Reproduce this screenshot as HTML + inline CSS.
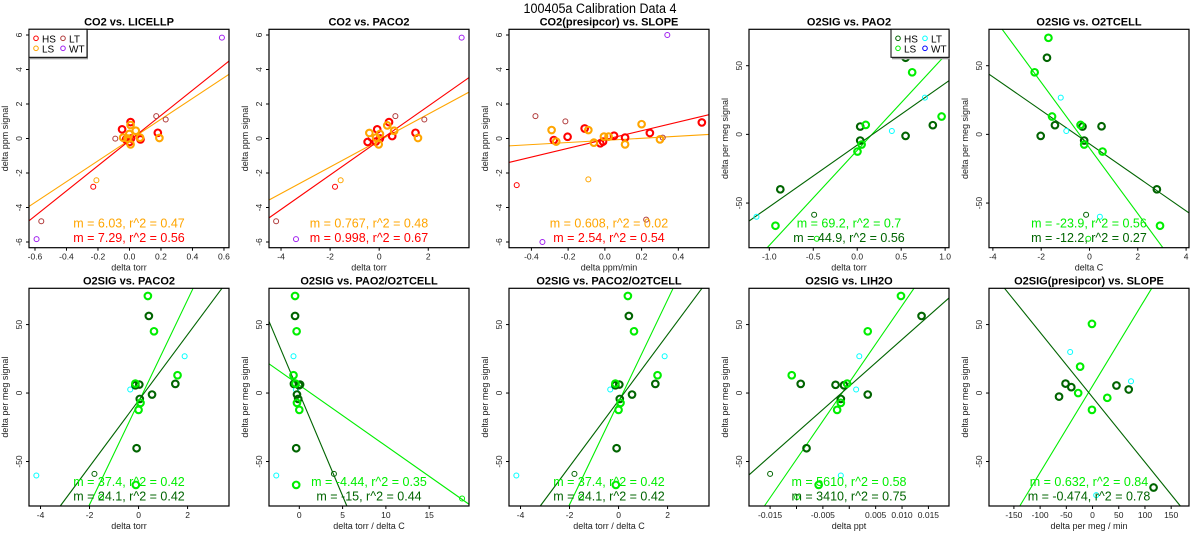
<!DOCTYPE html>
<html><head><meta charset="utf-8"><style>
html,body{margin:0;padding:0;background:#fff;overflow:hidden;width:1200px;height:550px;}
svg{display:block;font-family:"Liberation Sans",Arial,sans-serif;}
</style></head><body>
<svg id="fig" width="1200" height="550" viewBox="0 0 1200 550" xmlns="http://www.w3.org/2000/svg">
<rect width="1200" height="550" fill="#fff"/>
<text x="600" y="13" font-size="13.5" text-anchor="middle" textLength="153" lengthAdjust="spacingAndGlyphs">100405a   Calibration Data 4</text>
</svg>
<script>
// ---------- data ----------
const p1HS=[[-0.047,0.53],[0.007,0.95],[-0.022,-0.05],[0.0,-0.2],[0.07,-0.05],[0.18,0.33],[0.01,0.0]];
const p1LS=[[-0.04,0.05],[-0.001,0.26],[0.007,-0.34],[0.007,0.78],[0.04,0.45],[0.19,0.03],[-0.012,0.0],[0.067,0.05]];
const p1HSs=[[-0.23,-2.8]];
const p1LSs=[[-0.21,-2.42]];
const p1LT=[[-0.09,-0.01],[0.17,1.3],[0.23,1.1],[-0.56,-4.8]];
const p1WT=[[0.587,5.85],[-0.59,-5.83]];
const p2HS=[[-0.47,-0.2],[-0.08,0.53],[0.40,0.95],[0.53,0.14],[1.48,0.33],[-0.14,-0.18],[0.03,0.0]];
const p2LS=[[-0.40,0.32],[-0.13,0.05],[-0.02,-0.34],[0.33,0.76],[0.61,0.45],[1.58,0.03],[0.03,0.26]];
const p2HSs=[[-1.8,-2.8]];
const p2LSs=[[-1.57,-2.42]];
const p2LT=[[-0.35,0],[0.66,1.3],[1.84,1.1],[-4.2,-4.8]];
const p2WT=[[3.36,5.85],[-3.39,-5.83]];
const p3HS=[[-0.278,-0.09],[-0.203,0.1],[-0.11,0.58],[-0.025,-0.28],[-0.01,-0.18],[0.05,0.16],[0.11,0.05],[0.245,0.32],[0.528,0.93]];
const p3LS=[[-0.29,0.49],[-0.265,-0.18],[-0.09,0.49],[-0.06,-0.24],[-0.005,0.11],[0.02,0.11],[0.11,-0.34],[0.2,0.83],[0.3,-0.05]];
const p3HSs=[[-0.48,-2.7]];
const p3LSs=[[-0.09,-2.37]];
const p3LT=[[-0.378,1.3],[-0.215,0.99],[0.315,0.05],[0.225,-4.7]];
const p3WT=[[0.34,6.0],[-0.34,-6.0]];
const p4HS=[[-0.875,-40],[0.034,5.7],[0.034,-4.5],[0.55,55.8],[0.55,-1.1],[0.86,6.7]];
const p4LS=[[-0.93,-66.5],[0.003,-12.5],[0.05,-7.4],[0.097,6.9],[0.625,45.2],[0.96,13],[0.6,70.3]];
const p4HSs=[[-0.49,-58.5]];
const p4LSs=[[-0.46,-76]];
const p4LT=[[-1.146,-60],[0.394,2.5],[0.77,26.8]];
const p5HS=[[-1.43,6.7],[-2.02,-1.1],[-1.76,55.8],[-0.29,5.7],[-0.22,-4.5],[0.5,5.9],[2.79,-40]];
const p5LS=[[-2.27,45.2],[-1.7,70.3],[-1.55,13],[-0.37,6.9],[-0.22,-7.4],[0.54,-12.5],[2.92,-66.5]];
const p5HSs=[[-0.14,-58.5]];
const p5LSs=[[-0.05,-76]];
const p5LT=[[-1.19,26.8],[-0.96,2.5],[0.43,-60]];
const p6HS=[[0.42,56.3],[0.03,6.2],[-0.13,5.7],[0.05,-4.3],[0.55,-1.1],[1.5,6.7],[-0.08,-40.3]];
const p6LS=[[0.38,70.9],[0.63,45.1],[-0.13,6.9],[0.08,-7.2],[0.0,-12.3],[1.59,13],[-0.11,-67.1]];
const p6HSs=[[-1.8,-59]];
const p6LSs=[[-1.53,-76]];
const p6LT=[[-4.17,-60.2],[-0.34,2.6],[1.88,26.9]];
const p7HS=[[-0.49,56.3],[-0.62,6.7],[-0.04,5.7],[-0.27,-1.1],[-0.13,-4.3],[-0.36,-40.3],[0.09,6.2]];
const p7LS=[[-0.49,70.9],[-0.31,45.1],[-0.67,13],[-0.44,6.9],[-0.27,-7.2],[0,-12.3],[-0.36,-67.1]];
const p7HSs=[[4.0,-59]];
const p7LSs=[[18.8,-77]];
const p7LT=[[-2.66,-60.2],[-0.67,26.9],[-0.4,2.6]];
const p9HS=[[0.0137,56.3],[-0.0092,6.7],[-0.0026,6],[-0.001,5.7],[-0.0016,-4.3],[0.0035,-1.1],[-0.0081,-40.3]];
const p9LS=[[0.0098,70.9],[0.0035,45.1],[-0.0109,13],[-0.0004,6.9],[-0.0016,-7.2],[-0.0023,-12.3],[-0.0058,-67.1]];
const p9HSs=[[-0.015,-59]];
const p9LSs=[[-0.0099,-76]];
const p9LT=[[-0.0016,-60.2],[0.0019,26.9],[0.0013,2.6]];
const p10HS=[[-63.9,-2.6],[-51.5,6.9],[-40.5,4.3],[45.6,5.5],[69,2.6],[116.4,-69]];
const p10LS=[[-1.1,50.5],[-23.7,19.3],[-27.4,0],[-1.1,-12.3],[28.1,-3.5]];
const p10LT=[[-42.7,30],[73.4,8.6],[7,-74.6]];
// fit lines: [slope, intercept]
const fitsTopA=[[6.03,-0.09],[7.29,-0.12]];
const fitsTopB=[[0.767,-0.12],[0.998,-0.12]];
const fitsTopC=[[0.608,-0.11],[2.54,-0.06]];
const fitsO2A=[[69.2,-11.6],[44.9,-7.8]];
const fitsO2B=[[-23.9,-9.9],[-12.2,-6.9]];
const fitsO2C=[[37.4,-6.7],[24.1,-5.5]];
const fitsO2D=[[-4.44,5.8],[-15,-0.1]];
const fitsO2E=[[5610,7.7],[3410,5.0]];
const fitsO2F=[[0.632,5.2],[-0.474,-3.1]];
// tick values / labels
const ticksCO2y=[-6,-4,-2,0,2,4,6];
const ticksO2y=[-50,0,50];
const ticksP1x=[-0.6,-0.4,-0.2,0,0.2,0.4,0.6];
const labelsP1x=["-0.6","-0.4","-0.2","0.0","0.2","0.4","0.6"];
const ticksP2x=[-4,-2,0,2];
const ticksP3x=[-0.4,-0.2,0,0.2,0.4];
const labelsP3x=["-0.4","-0.2","0.0","0.2","0.4"];
const ticksP4x=[-1,-0.5,0,0.5,1];
const labelsP4x=["-1.0","-0.5","0.0","0.5","1.0"];
const ticksP5x=[-4,-2,0,2,4];
const ticksP7x=[0,5,10,15];
const ticksP9x=[-0.015,-0.01,-0.005,0,0.005,0.01,0.015];
const labelsP9x=["-0.015","","-0.005","","0.005","0.010","0.015"];
const ticksP10x=[-150,-100,-50,0,50,100,150];

// ---------- drawing ----------
const NS="http://www.w3.org/2000/svg";
const svg=document.getElementById('fig');
function mk(tag,attrs,parent){const e=document.createElementNS(NS,tag);for(const k in attrs)e.setAttribute(k,attrs[k]);(parent||svg).appendChild(e);return e;}
const RED="#ff0000",ORG="#ffa500",BRN="#b03a3a",PUR="#a020f0",DG="#006400",LG="#00ee00",CY="#00ffff",BL="#0000ff";
const TOPY=[29.3,247.7],BOTY=[288.3,506];
const CO2R=[-6.33,6.33],O2R=[-82.5,76.5];

function panel(o){
  const g=mk('g',{});
  
  
  const x0=o.bx,x1=o.bx+200,y0=o.by[0],y1=o.by[1];
  const sx=v=>x0+(v-o.xr[0])/(o.xr[1]-o.xr[0])*(x1-x0);
  const sy=v=>y1-(v-o.yr[0])/(o.yr[1]-o.yr[0])*(y1-y0);
  o.fits.forEach((f,i)=>{
    // clip line analytically to the y-range
    let xa=o.xr[0],xb=o.xr[1];
    const m=f[0],b=f[1];
    if(m!==0){
      let xlo=(o.yr[0]-b)/m,xhi=(o.yr[1]-b)/m;
      if(xlo>xhi){const t=xlo;xlo=xhi;xhi=t;}
      xa=Math.max(xa,xlo);xb=Math.min(xb,xhi);
    }
    if(xb<=xa)return;
    const l=mk('line',{x1:sx(xa),y1:sy(m*xa+b),x2:sx(xb),y2:sy(m*xb+b),stroke:o.fitCol[i],'stroke-width':1.1},g);
    
    
  });
  o.series.forEach(s=>{
    s.pts.forEach(p=>{
      const c=mk('circle',{cx:sx(p[0]),cy:sy(p[1]),r:s.thick?3.3:2.5,fill:'none',stroke:s.col,'stroke-width':s.thick?2.1:1},g);
      
      
    });
  });
  mk('rect',{x:x0,y:y0,width:x1-x0,height:y1-y0,fill:'none',stroke:'#000','stroke-width':1.2},g);
  o.xt.forEach((t,i)=>{
    const X=sx(t);
    mk('line',{x1:X,y1:y1,x2:X,y2:y1+3,stroke:'#000'},g);
    const lab=o.xl?o.xl[i]:String(t);
    if(lab){const tx=mk('text',{x:X,y:y1+12,'font-size':8.5,'text-anchor':'middle',fill:'#222'},g);tx.textContent=lab;
      
      }
  });
  o.yt.forEach(t=>{
    const Y=sy(t);
    mk('line',{x1:x0,y1:Y,x2:x0-3,y2:Y,stroke:'#000'},g);
    const tx=mk('text',{x:x0-7,y:Y,'font-size':8.5,'text-anchor':'middle',fill:'#222',transform:`rotate(-90 ${x0-7} ${Y})`},g);tx.textContent=String(t);
    
    
  });
  const tt=mk('text',{x:(x0+x1)/2,y:y0-4,'font-size':11,'font-weight':'bold','text-anchor':'middle'},g);tt.textContent=o.title;
  
  
  const xl=mk('text',{x:(x0+x1)/2,y:y1+23,'font-size':9,'text-anchor':'middle',fill:'#222'},g);xl.textContent=o.xlab;
  
  
  const yc=(y0+y1)/2;
  const yl=mk('text',{x:x0-21,y:yc,'font-size':9,'text-anchor':'middle',fill:'#222',transform:`rotate(-90 ${x0-21} ${yc})`},g);yl.textContent=o.ylab;
  
  
  o.fits.forEach((f,i)=>{
    const r=mk('text',{x:(x0+x1)/2,y:y1-20+i*14.5,'font-size':12.5,'text-anchor':'middle',fill:o.fitCol[i]},g);
    r.textContent=o.ann[i];
    
    
  });
  if(o.legend){
    const lx=o.legend.x;
    const lg=mk('g',{},g);
    
    
    mk('rect',{x:lx+1,y:y0+1,width:58,height:29,fill:'#999'},lg);
    mk('rect',{x:lx,y:y0,width:58,height:28,fill:'#fff',stroke:'#000','stroke-width':1},lg);
    o.legend.items.forEach((it,i)=>{
      const cx=lx+7+(i%2)*27,cy=y0+9+Math.floor(i/2)*10;
      mk('circle',{cx:cx,cy:cy,r:2.3,fill:'none',stroke:it[1],'stroke-width':1},lg);
      const t=mk('text',{x:cx+6,y:cy+4,'font-size':10},lg);t.textContent=it[0];
      
      
    });
  }
}
function co2Series(hs,ls,hss,lss,lt,wt){return [{key:'lt',pts:lt,col:BRN},{key:'wt',pts:wt,col:PUR},{key:'hs-small',pts:hss,col:RED},{key:'ls-small',pts:lss,col:ORG},{key:'hs',pts:hs,col:RED,thick:1},{key:'ls',pts:ls,col:ORG,thick:1}];}
function o2Series(hs,ls,hss,lss,lt){return [{key:'lt',pts:lt,col:CY},{key:'hs-small',pts:hss||[],col:DG},{key:'ls-small',pts:lss||[],col:LG},{key:'hs',pts:hs,col:DG,thick:1},{key:'ls',pts:ls,col:LG,thick:1}];}
const co2Leg=[["HS",RED],["LT",BRN],["LS",ORG],["WT",PUR]];
const o2Leg=[["HS",DG],["LT",CY],["LS",LG],["WT",BL]];
const co2Col=[ORG,RED],o2Col=[LG,DG];
const YL1="delta ppm signal",YL2="delta per meg signal";

panel({name:'co2-vs-licellp',bx:29,by:TOPY,xr:[-0.638,0.632],yr:CO2R,xt:ticksP1x,xl:labelsP1x,yt:ticksCO2y,title:'CO2 vs. LICELLP',xlab:'delta torr',ylab:YL1,series:co2Series(p1HS,p1LS,p1HSs,p1LSs,p1LT,p1WT),fits:fitsTopA,fitCol:co2Col,ann:['m = 6.03, r^2 = 0.47','m = 7.29, r^2 = 0.56'],legend:{x:29,items:co2Leg}});
panel({name:'co2-vs-paco2',bx:269,by:TOPY,xr:[-4.49,3.66],yr:CO2R,xt:ticksP2x,yt:ticksCO2y,title:'CO2 vs. PACO2',xlab:'delta torr',ylab:YL1,series:co2Series(p2HS,p2LS,p2HSs,p2LSs,p2LT,p2WT),fits:fitsTopB,fitCol:co2Col,ann:['m = 0.767, r^2 = 0.48','m = 0.998, r^2 = 0.67']});
panel({name:'co2-presipcor-vs-slope',bx:509,by:TOPY,xr:[-0.522,0.567],yr:CO2R,xt:ticksP3x,xl:labelsP3x,yt:ticksCO2y,title:'CO2(presipcor) vs. SLOPE',xlab:'delta ppm/min',ylab:YL1,series:co2Series(p3HS,p3LS,p3HSs,p3LSs,p3LT,p3WT),fits:fitsTopC,fitCol:co2Col,ann:['m = 0.608, r^2 = 0.02','m = 2.54, r^2 = 0.54']});
panel({name:'o2sig-vs-pao2',bx:749,by:TOPY,xr:[-1.231,1.044],yr:O2R,xt:ticksP4x,xl:labelsP4x,yt:ticksO2y,title:'O2SIG vs. PAO2',xlab:'delta torr',ylab:YL2,series:o2Series(p4HS,p4LS,p4HSs,p4LSs,p4LT),fits:fitsO2A,fitCol:o2Col,ann:['m = 69.2, r^2 = 0.7','m = 44.9, r^2 = 0.56'],legend:{x:891,items:o2Leg}});
panel({name:'o2sig-vs-o2tcell',bx:989,by:TOPY,xr:[-4.16,4.12],yr:O2R,xt:ticksP5x,yt:ticksO2y,title:'O2SIG vs. O2TCELL',xlab:'delta C',ylab:YL2,series:o2Series(p5HS,p5LS,p5HSs,p5LSs,p5LT),fits:fitsO2B,fitCol:o2Col,ann:['m = -23.9, r^2 = 0.56','m = -12.2, r^2 = 0.27']});
panel({name:'o2sig-vs-paco2',bx:29,by:BOTY,xr:[-4.47,3.69],yr:O2R,xt:ticksP2x,yt:ticksO2y,title:'O2SIG vs. PACO2',xlab:'delta torr',ylab:YL2,series:o2Series(p6HS,p6LS,p6HSs,p6LSs,p6LT),fits:fitsO2C,fitCol:o2Col,ann:['m = 37.4, r^2 = 0.42','m = 24.1, r^2 = 0.42']});
panel({name:'o2sig-vs-pao2-o2tcell',bx:269,by:BOTY,xr:[-3.5,19.6],yr:O2R,xt:ticksP7x,yt:ticksO2y,title:'O2SIG vs. PAO2/O2TCELL',xlab:'delta torr / delta C',ylab:YL2,series:o2Series(p7HS,p7LS,p7HSs,p7LSs,p7LT),fits:fitsO2D,fitCol:o2Col,ann:['m = -4.44, r^2 = 0.35','m = -15, r^2 = 0.44']});
panel({name:'o2sig-vs-paco2-o2tcell',bx:509,by:BOTY,xr:[-4.47,3.69],yr:O2R,xt:ticksP2x,yt:ticksO2y,title:'O2SIG vs. PACO2/O2TCELL',xlab:'delta torr / delta C',ylab:YL2,series:o2Series(p6HS,p6LS,p6HSs,p6LSs,p6LT),fits:fitsO2C,fitCol:o2Col,ann:['m = 37.4, r^2 = 0.42','m = 24.1, r^2 = 0.42']});
panel({name:'o2sig-vs-lih2o',bx:749,by:BOTY,xr:[-0.019,0.0189],yr:O2R,xt:ticksP9x,xl:labelsP9x,yt:ticksO2y,title:'O2SIG vs. LIH2O',xlab:'delta ppt',ylab:YL2,series:o2Series(p9HS,p9LS,p9HSs,p9LSs,p9LT),fits:fitsO2E,fitCol:o2Col,ann:['m = 5610, r^2 = 0.58','m = 3410, r^2 = 0.75']});
panel({name:'o2sig-presipcor-vs-slope',bx:989,by:BOTY,xr:[-197.5,184],yr:O2R,xt:ticksP10x,yt:ticksO2y,title:'O2SIG(presipcor) vs. SLOPE',xlab:'delta per meg / min',ylab:YL2,series:o2Series(p10HS,p10LS,[],[],p10LT),fits:fitsO2F,fitCol:o2Col,ann:['m = 0.632, r^2 = 0.84','m = -0.474, r^2 = 0.78']});
</script>
</body></html>
